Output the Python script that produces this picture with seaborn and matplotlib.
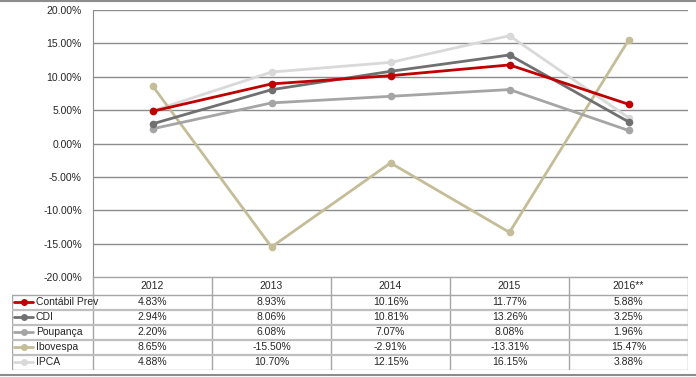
import numpy as np
import pandas as pd
import matplotlib
matplotlib.use("Agg")
import matplotlib.pyplot as plt
import seaborn as sns

years = ["2012", "2013", "2014", "2015", "2016**"]
series = ["Contábil Prev", "CDI", "Poupança", "Ibovespa", "IPCA"]
contabil = [4.83, 8.93, 10.16, 11.77, 5.88]
cdi = [2.94, 8.06, 10.81, 13.26, 3.25]
poupanca = [2.20, 6.08, 7.07, 8.08, 1.96]
ibovespa = [8.65, -15.50, -2.91, -13.31, 15.47]
ipca = [4.88, 10.70, 12.15, 16.15, 3.88]
colors = ["#C00000", "#707070", "#A5A5A5", "#C4BD97", "#D9D9D9"]

values = [contabil, cdi, poupanca, ibovespa, ipca]
rows = []
for name, vals in zip(series, values):
    for i, v in enumerate(vals):
        rows.append({"serie": name, "x": i, "valor": v})
df = pd.DataFrame(rows)

sns.set_style("white")
plt.rcParams["font.family"] = ["Liberation Sans", "DejaVu Sans"]

W, H = 696, 377
fig = plt.figure(figsize=(W / 100, H / 100), dpi=100)

# eixo principal (pixels: x 93..688, y 10..277)
left, right, top, bottom = 93, 688, 10, 277
ax = fig.add_axes([left / W, 1 - bottom / H, (right - left) / W, (bottom - top) / H])

# desenha de trás pra frente pra vermelho ficar em cima
order = [4, 3, 2, 1, 0]
for k in order:
    sub = df[df["serie"] == series[k]]
    sns.lineplot(data=sub, x="x", y="valor", color=colors[k], lw=2, marker="o",
                 markersize=5.5, markeredgewidth=0, ax=ax, legend=False)

ax.set_xlim(-0.5, 4.5)
ax.set_ylim(-20, 20)
ax.set_yticks(np.arange(-20, 21, 5))
ax.set_yticklabels([f"{t:.2f}%" for t in np.arange(-20, 21, 5)], fontsize=7.5)
ax.set_xticks([])
ax.set_xlabel("")
ax.set_ylabel("")
ax.grid(axis="y", color="#8C8C8C", lw=1)
ax.set_axisbelow(True)
for s in ["top", "right", "bottom"]:
    ax.spines[s].set_visible(False)
ax.spines["left"].set_color("#8C8C8C")
ax.tick_params(axis="y", length=0, pad=8)

# tabela de dados
tleft, tbottom = 12, 370
unit = (right - left) / 5
tx = fig.add_axes([tleft / W, 1 - tbottom / H, (right - tleft) / W, (tbottom - bottom) / H])
x0 = -0.5 - (left - tleft) / unit
tx.set_xlim(x0, 4.5)
head = 18 / 15.2
tx.set_ylim(head + 5, 0)
tx.axis("off")
line_c = "#A6A6A6"
# cabeçalho
for i, y in enumerate(years):
    tx.text(i, head / 2, y, ha="center", va="center", fontsize=7.5)
for i in range(6):
    tx.plot([i - 0.5, i - 0.5], [0, head + 5], color=line_c, lw=1)
tx.plot([-0.5, 4.5], [0, 0], color=line_c, lw=1)
tx.plot([x0, 4.5], [head, head], color=line_c, lw=1)
tx.plot([x0, x0], [head, head + 5], color=line_c, lw=1)
for r in range(5):
    yc = head + r + 0.5
    if r > 0:
        tx.plot([x0, 4.5], [head + r, head + r], color="#BFBFBF", lw=1.6)
    for i, v in enumerate(values[r]):
        tx.text(i, yc, f"{v:.2f}%", ha="center", va="center", fontsize=7.5)
    tx.plot([x0 + 0.02, x0 + 0.18], [yc, yc], color=colors[r], lw=2)
    tx.plot([x0 + 0.1], [yc], marker="o", color=colors[r], markersize=5, markeredgewidth=0)
    tx.text(x0 + 0.2, yc, series[r], ha="left", va="center", fontsize=7.5)
tx.plot([x0, 4.5], [head + 5, head + 5], color=line_c, lw=1)

# moldura
fig.add_artist(plt.Line2D([0, 1], [1 - 1 / H, 1 - 1 / H], color="#8C8C8C", lw=1.5))
fig.add_artist(plt.Line2D([0, 1], [1 - 375 / H, 1 - 375 / H], color="#8C8C8C", lw=1.5))

fig.savefig("out.png", dpi=100)
